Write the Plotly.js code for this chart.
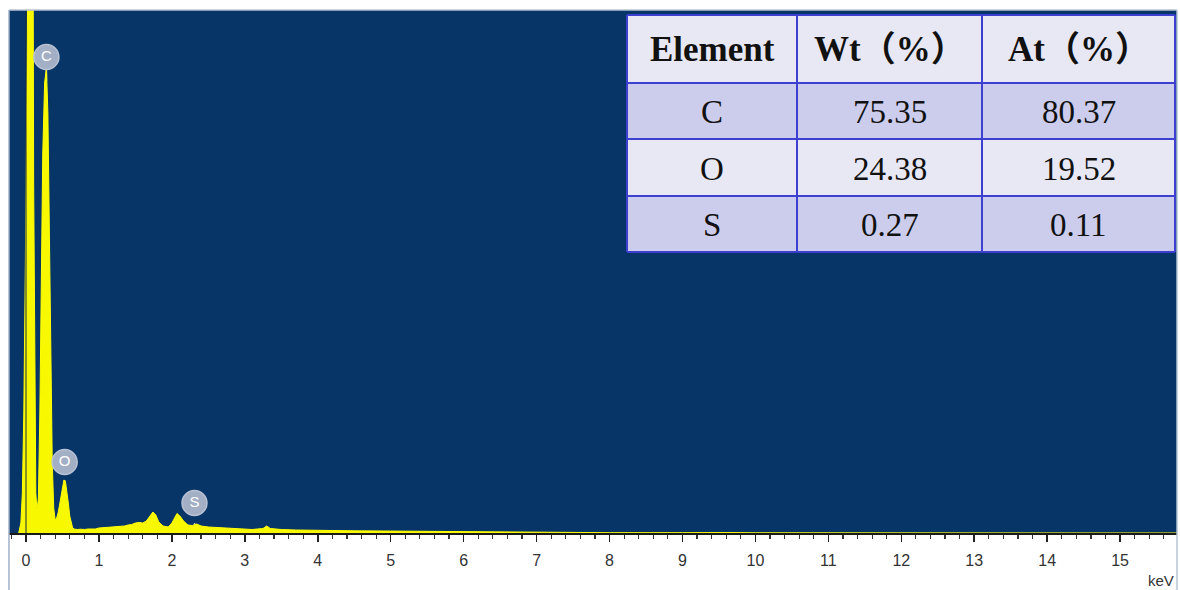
<!DOCTYPE html>
<html>
<head>
<meta charset="utf-8">
<script src="https://cdn.plot.ly/plotly-3.0.1.min.js"></script>
<style>html,body{margin:0;padding:0;background:#fff;}#chart{width:1180px;height:590px;}</style>
</head>
<body>
<div id="chart"></div>
<script>
// EDS spectrum (energy in keV, counts in arbitrary units)
const energyKeV = [-0.10,-0.07,-0.05,-0.03,-0.01,0.01,0.025,0.04,0.07,0.09,0.105,0.12,0.135,0.15,0.17,0.19,0.21,0.23,0.255,0.28,0.30,0.32,0.34,0.36,0.38,0.40,0.42,0.44,0.46,0.48,0.50,0.52,0.54,0.56,0.58,0.60,0.62,0.64,0.66,0.70,0.75,0.80,0.85,0.90,0.95,1.00,1.05,1.10,1.15,1.20,1.25,1.30,1.35,1.40,1.45,1.50,1.55,1.60,1.65,1.70,1.74,1.78,1.82,1.88,1.95,2.00,2.04,2.07,2.11,2.16,2.22,2.28,2.34,2.40,2.50,2.60,2.80,3.00,3.10,3.25,3.30,3.35,3.50,3.70,3.90,4.00,4.20,4.50,4.80,5.00,5.50,6.00,6.30,6.50,7.00,7.50,8.00,9.00,9.30,9.50,9.60,10.0,11.0,15.8];
const counts    = [0,100,400,1200,2600,4300,5600,14000,14000,8000,3500,1200,400,220,350,1200,2600,3800,4500,4650,4200,3000,1600,700,250,130,150,200,280,380,480,530,520,430,300,170,90,50,40,35,38,35,40,42,40,50,52,55,55,60,62,66,70,80,85,100,105,100,120,170,210,180,110,70,60,100,160,195,170,120,80,75,90,70,60,55,45,40,35,45,70,45,35,30,30,28,25,22,20,20,18,15,12,10,8,5,3,3,5,10,5,2,2,0];

// Element peak labels
const peakNames   = ['C','O','S'];
const peakKeV     = [0.28, 0.53, 2.31];
const labelCounts = [4760, 710, 300];
const peakTops    = [4630, 530, 100];

// Quantification table
const tableHeader = ['Element','Wt（%）','At（%）'];
const colElement  = ['C','O','S'];
const colWt       = ['75.35','24.38','0.27'];
const colAt       = ['80.37','19.52','0.11'];

// x-axis ticks
const tickValues = [0,1,2,3,4,5,6,7,8,9,10,11,12,13,14,15];
const tickLabels = ['0','1','2','3','4','5','6','7','8','9','10','11','12','13','14','15'];

// layout helpers (pixel -> paper)
const L = 9, R = 1177, T = 10, B = 533;
const px = v => (v - L) / (R - L);
const py = v => (B - v) / (B - T);

const traces = [
  {
    x: energyKeV, y: counts, type: 'scatter', mode: 'lines',
    fill: 'tozeroy', fillcolor: '#f8f800',
    line: {color: '#ffff00', width: 1, shape: 'linear'},
    hoverinfo: 'skip', showlegend: false
  },
  {
    x: peakKeV, y: labelCounts, type: 'scatter', mode: 'markers+text',
    text: peakNames, textposition: 'middle center',
    textfont: {family: 'Liberation Sans, Arial, sans-serif', size: 15, color: '#ffffff'},
    marker: {symbol: 'circle', size: 25, color: '#a3afc4', line: {color: '#b8c2d4', width: 1.5}},
    hoverinfo: 'skip', showlegend: false, cliponaxis: false
  }
];

const shapes = [];
// stems from labels to peaks
peakKeV.forEach((k, i) => {
  shapes.push({type: 'line', xref: 'x', yref: 'y', x0: k, x1: k, y0: peakTops[i], y1: labelCounts[i] - 240,
    line: {color: '#b8c2d4', width: 1.5}, layer: 'below'});
});
// zero line
shapes.push({type: 'line', xref: 'x', yref: 'paper', x0: 0, x1: 0, y0: 0, y1: 1, line: {color: '#1b2a40', width: 1}, layer: 'above'});
// frame lines
shapes.push({type: 'line', xref: 'paper', yref: 'paper', x0: 0, x1: 1, y0: 1, y1: 1, line: {color: '#b9c3d3', width: 1.5}});
shapes.push({type: 'line', xref: 'paper', yref: 'paper', x0: 0, x1: 0, y0: py(590), y1: 1, line: {color: '#9fb0c8', width: 1.5}});
shapes.push({type: 'line', xref: 'paper', yref: 'paper', x0: 1, x1: 1, y0: py(590), y1: 1, line: {color: '#b9c3d3', width: 1.5}});

// table geometry (pixels)
const colEdges = [627, 797, 982, 1175];
const rowEdges = [15, 83, 139, 196, 252];
const rowFills = ['#e8e8f5', '#cccdec', '#e8e8f5', '#cccdec'];
const annotations = [];
const rows = [tableHeader].concat(colElement.map((e, i) => [e, colWt[i], colAt[i]]));
rows.forEach((row, r) => {
  shapes.push({type: 'rect', xref: 'paper', yref: 'paper',
    x0: px(colEdges[0]), x1: px(colEdges[3]), y0: py(rowEdges[r + 1]), y1: py(rowEdges[r]),
    fillcolor: rowFills[r], line: {width: 0}, layer: 'above'});
  row.forEach((txt, c) => {
    annotations.push({xref: 'paper', yref: 'paper',
      x: px((colEdges[c] + colEdges[c + 1]) / 2), y: py((rowEdges[r] + rowEdges[r + 1]) / 2 + 1),
      text: r === 0 ? '<b>' + txt + '</b>' : txt, showarrow: false,
      xanchor: 'center', yanchor: 'middle',
      font: {family: 'Liberation Serif, Times New Roman, Noto Sans CJK SC, serif', size: r === 0 ? 35 : 33, color: '#111111'}});
  });
});
// grid lines of the table
colEdges.forEach(cx => shapes.push({type: 'line', xref: 'paper', yref: 'paper', x0: px(cx), x1: px(cx), y0: py(rowEdges[0]), y1: py(rowEdges[4]), line: {color: '#3d3fd0', width: 2}, layer: 'above'}));
rowEdges.forEach(ry => shapes.push({type: 'line', xref: 'paper', yref: 'paper', x0: px(colEdges[0]), x1: px(colEdges[3]), y0: py(ry), y1: py(ry), line: {color: '#3d3fd0', width: 2}, layer: 'above'}));

annotations.push({xref: 'paper', yref: 'paper', x: px(1176), y: py(580), xanchor: 'right', yanchor: 'middle',
  text: 'keV', showarrow: false, font: {family: 'Liberation Sans, Arial, sans-serif', size: 15, color: '#333333'}});

const layout = {
  width: 1180, height: 590,
  margin: {l: L, r: 1180 - R, t: T, b: 590 - B, pad: 0},
  paper_bgcolor: '#ffffff', plot_bgcolor: '#083567',
  showlegend: false,
  xaxis: {
    range: [-0.233, 15.78], showgrid: false, zeroline: false,
    showline: true, linecolor: '#1a1a1a', linewidth: 1.5,
    ticks: 'outside', ticklen: 7, tickwidth: 1.5, tickcolor: '#222222',
    tickvals: tickValues, ticktext: tickLabels, ticklabelstandoff: 5,
    tickfont: {family: 'Liberation Sans, Arial, sans-serif', size: 16, color: '#333333'},
    minor: {dtick: 0.2, tick0: 0, ticks: 'outside', ticklen: 4, tickwidth: 1.2, tickcolor: '#333333', showgrid: false},
    fixedrange: true
  },
  yaxis: {range: [0, 5230], visible: false, showgrid: false, zeroline: false, fixedrange: true},
  shapes: shapes,
  annotations: annotations
};

Plotly.newPlot('chart', traces, layout, {displayModeBar: false, staticPlot: true});
</script>
</body>
</html>
